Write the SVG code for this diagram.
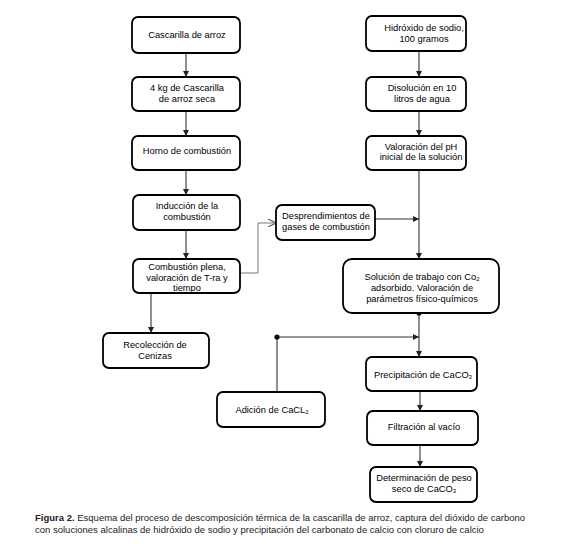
<svg xmlns="http://www.w3.org/2000/svg" width="580" height="544" viewBox="0 0 580 544">
<style>
.box{fill:#fff;stroke:#000;stroke-width:1.8}
.t{font-family:"Liberation Sans",Arial,sans-serif;font-size:9.3px;fill:#000;text-anchor:middle}
.ln{fill:none;stroke:#333;stroke-width:1.1}
.gl{fill:none;stroke:#777;stroke-width:1}
.cap{font-family:"Liberation Sans",Arial,sans-serif;font-size:9.5px;fill:#222}
</style>
<defs>
<marker id="ah" viewBox="0 0 8 8" refX="8" refY="4" markerWidth="6" markerHeight="6" markerUnits="userSpaceOnUse" orient="auto"><path d="M0 0 L8 4 L0 8 z" fill="#222"/></marker>
<marker id="oa" viewBox="0 0 8 8" refX="8" refY="4" markerWidth="8" markerHeight="8" markerUnits="userSpaceOnUse" orient="auto"><path d="M0 0 L8 4 L0 8" fill="none" stroke="#666" stroke-width="1.2"/></marker>
<marker id="dot" viewBox="0 0 6 6" refX="3" refY="3" markerWidth="5.5" markerHeight="5.5" markerUnits="userSpaceOnUse" orient="auto"><circle cx="3" cy="3" r="2.8" fill="#000"/></marker>
<marker id="bar" viewBox="0 0 6 4" refX="3" refY="1" markerWidth="6" markerHeight="4" markerUnits="userSpaceOnUse"><path d="M0 0 H6 V1.5 H0 z M2.2 0 H3.8 V4 H2.2z" fill="#222"/></marker>
</defs>

<g id="connectors">
<path class="ln" d="M186 47 V77" marker-start="url(#dot)" marker-end="url(#ah)"/>
<path class="ln" d="M186 107 V136" marker-start="url(#dot)" marker-end="url(#ah)"/>
<path class="ln" d="M186 165 V195" marker-start="url(#dot)" marker-end="url(#ah)"/>
<path class="ln" d="M186 227 V259" marker-start="url(#bar)" marker-end="url(#ah)"/>
<path class="ln" d="M151 293 V333" marker-end="url(#ah)"/>
<path class="gl" d="M240 273 H258 V223 H276" marker-end="url(#oa)"/>
<path class="ln" d="M372 219 H419" marker-start="url(#dot)" marker-end="url(#ah)"/>
<path class="ln" d="M419 48 V77" marker-start="url(#bar)" marker-end="url(#ah)"/>
<path class="ln" d="M419 107 V136" marker-start="url(#dot)" marker-end="url(#ah)"/>
<path class="ln" d="M419 167 V259" marker-start="url(#bar)" marker-end="url(#ah)"/>
<path class="ln" d="M419 313 V357" marker-start="url(#dot)" marker-end="url(#ah)"/>
<path class="ln" d="M277 392 V337 H419" marker-end="url(#ah)"/>
<circle cx="277" cy="337" r="2.6" fill="#000"/>
<path class="ln" d="M420 388 V411" marker-start="url(#bar)" marker-end="url(#ah)"/>
<path class="ln" d="M420 442 V467" marker-start="url(#bar)" marker-end="url(#ah)"/>
</g>

<g id="n1"><rect class="box" x="132" y="17" width="108" height="36" rx="6"/><text class="t" x="187" y="38">Cascarilla de arroz</text></g>
<g id="n2"><rect class="box" x="132" y="77" width="108" height="34" rx="6"/><text class="t" x="187" y="90.5">4 kg de Cascarilla</text><text class="t" x="187" y="101.5">de arroz seca</text></g>
<g id="n3"><rect class="box" x="132" y="136" width="108" height="34" rx="6"/><text class="t" x="187" y="154">Horno de combustión</text></g>
<g id="n4"><rect class="box" x="133" y="195" width="107" height="35" rx="6"/><text class="t" x="187" y="209">Inducción de la</text><text class="t" x="187" y="220">combustión</text></g>
<g id="n5"><rect class="box" x="133" y="259" width="107" height="34" rx="6"/><text class="t" x="187" y="269.5">Combustión plena,</text><text class="t" x="187" y="280.5">valoración de T-ra y</text><text class="t" x="187" y="290.5">tiempo</text></g>
<g id="n6"><rect class="box" x="103" y="333" width="106" height="35" rx="6"/><text class="t" x="155" y="348">Recolección de</text><text class="t" x="155" y="359">Cenizas</text></g>
<g id="n7"><rect class="box" x="276" y="205" width="99" height="35" rx="6"/><text class="t" x="326" y="219">Desprendimientos de</text><text class="t" x="326" y="230">gases de combustión</text></g>
<g id="n8"><rect class="box" x="366" y="16" width="100" height="35" rx="6"/><text class="t" x="424" y="31">Hidróxido de sodio,</text><text class="t" x="424" y="42">100 gramos</text></g>
<g id="n9"><rect class="box" x="366" y="77" width="100" height="34" rx="6"/><text class="t" x="422" y="90.5">Disolución en 10</text><text class="t" x="422" y="101.5">litros de agua</text></g>
<g id="n10"><rect class="box" x="366" y="136" width="100" height="34" rx="6"/><text class="t" x="421" y="149.5">Valoración del pH</text><text class="t" x="421" y="160">inicial de la solución</text></g>
<g id="n11"><rect class="box" x="343" y="259" width="156" height="54" rx="9"/><text class="t" x="422" y="280">Solución de trabajo con Co<tspan font-size="6" dy="1">2</tspan></text><text class="t" x="422" y="291">adsorbido. Valoración de</text><text class="t" x="422" y="301.5">parámetros físico-químicos</text></g>
<g id="n12"><rect class="box" x="366" y="357" width="111" height="34" rx="6"/><text class="t" x="423" y="378">Precipitación de CaCO<tspan font-size="6" dy="1">3</tspan></text></g>
<g id="n13"><rect class="box" x="367" y="411" width="111" height="34" rx="6"/><text class="t" x="424" y="429.5">Filtración al vacío</text></g>
<g id="n14"><rect class="box" x="370" y="467" width="107" height="35" rx="6"/><text class="t" x="424" y="481">Determinación de peso</text><text class="t" x="424" y="492">seco de CaCO<tspan font-size="6" dy="1">3</tspan></text></g>
<g id="n15"><rect class="box" x="217" y="392" width="108" height="35" rx="6"/><text class="t" x="272" y="412.5">Adición de CaCL<tspan font-size="6" dy="1">2</tspan></text></g>

<g id="caption">
<text class="cap" x="35" y="521"><tspan font-weight="bold">Figura 2.</tspan> Esquema del proceso de descomposición térmica de la cascarilla de arroz, captura del dióxido de carbono</text>
<text class="cap" x="35" y="533">con soluciones alcalinas de hidróxido de sodio y precipitación del carbonato de calcio con cloruro de calcio</text>
</g>
</svg>
